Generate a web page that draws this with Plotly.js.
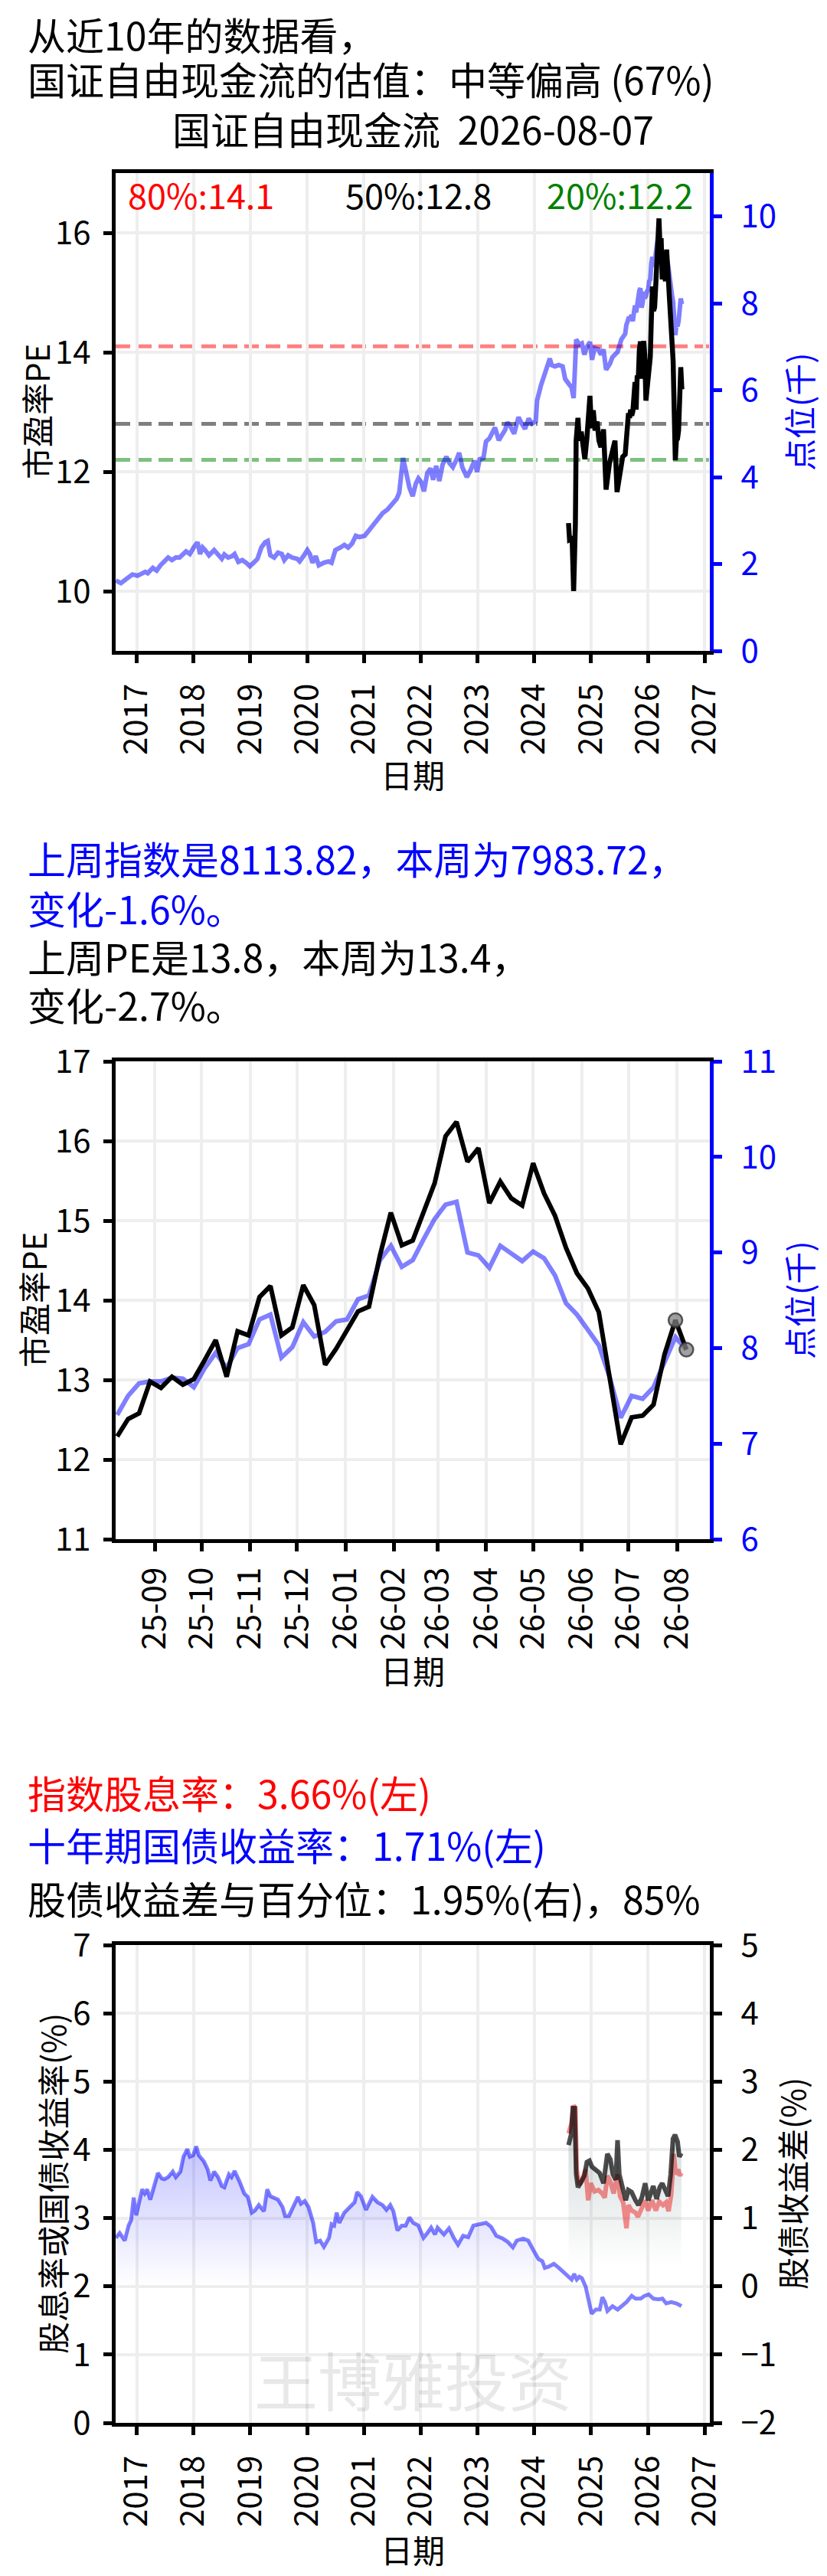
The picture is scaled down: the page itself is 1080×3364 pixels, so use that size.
<!DOCTYPE html>
<html>
<head>
<meta charset="utf-8">
<script src="https://cdn.plot.ly/plotly-3.0.1.min.js"></script>
<style>
  html, body { margin: 0; padding: 0; background: #fff; }
  #chart { width: 1080px; height: 3364px; }
</style>
</head>
<body>
<div id="chart"></div>
<script>
// ---- data ----
// index level (thousands), chart 1, before the weekly window (decimal years)
const idxYears = [2016.631,2016.721,2016.811,2016.924,2017.013,2017.148,2017.193,2017.283,2017.351,2017.418,
  2017.553,2017.620,2017.688,2017.755,2017.868,2017.935,2018.002,2018.070,2018.115,2018.160,2018.205,2018.272,
  2018.362,2018.430,2018.497,2018.542,2018.609,2018.677,2018.722,2018.789,2018.857,2018.924,2018.991,2019.059,
  2019.126,2019.194,2019.261,2019.306,2019.351,2019.419,2019.486,2019.553,2019.598,2019.666,2019.733,2019.823,
  2019.868,2019.935,2020.003,2020.048,2020.093,2020.151,2020.205,2020.295,2020.376,2020.430,2020.497,2020.587,
  2020.655,2020.722,2020.790,2020.857,2020.924,2021.014,2021.149,2021.239,2021.329,2021.419,2021.509,2021.576,
  2021.621,2021.688,2021.733,2021.800,2021.858,2021.913,2021.958,2022.012,2022.057,2022.115,2022.173,2022.218,
  2022.272,2022.327,2022.385,2022.452,2022.506,2022.565,2022.632,2022.677,2022.731,2022.812,2022.880,2022.947,
  2022.992,2023.037,2023.104,2023.149,2023.208,2023.262,2023.307,2023.374,2023.433,2023.487,2023.523,2023.577,
  2023.644,2023.721,2023.779,2023.837,2023.900,2023.959,2024.026,2024.048,2024.116,2024.161,2024.206,2024.273,
  2024.305,2024.363,2024.430,2024.498,2024.543,2024.611,2024.656,2024.692,2024.737,2024.791,2024.836,2024.881,
  2024.926,2024.980,2025.016,2025.061,2025.128,2025.173,2025.218,2025.263,2025.330,2025.375,2025.420,2025.465,
  2025.532];
const idxVals = [1.62,1.56,1.65,1.76,1.73,1.82,1.79,1.91,1.85,1.97,
  2.15,2.09,2.15,2.15,2.29,2.23,2.38,2.50,2.23,2.38,2.32,2.20,
  2.32,2.23,2.12,2.22,2.15,2.18,2.23,2.05,2.09,2.03,1.95,2.03,
  2.12,2.38,2.50,2.53,2.20,2.15,2.26,2.23,2.09,2.20,2.15,2.12,
  2.06,2.18,2.32,2.23,2.03,2.18,1.97,2.03,2.06,2.03,2.32,2.38,
  2.44,2.38,2.47,2.65,2.62,2.65,2.88,3.03,3.17,3.26,3.38,3.50,
  3.64,4.44,4.17,3.76,3.56,3.85,3.97,3.88,3.67,4.09,4.20,3.94,
  4.26,3.91,4.29,4.47,4.32,4.23,4.41,4.56,4.23,4.00,4.17,4.38,
  4.12,4.41,4.44,4.82,4.89,5.00,5.14,4.85,4.97,5.09,5.26,5.17,
  5.00,5.38,5.23,5.11,5.35,5.23,5.29,5.76,6.11,6.29,6.47,6.73,
  6.58,6.55,6.58,6.55,6.26,6.11,6.06,5.82,7.17,7.05,7.08,6.82,
  7.00,7.11,6.70,6.97,6.94,6.82,6.94,6.47,6.61,6.76,6.82,6.88,
  7.17];

// PE, chart 1, before the weekly window
const peYears = [2024.602,2024.620,2024.665,2024.692,2024.723,2024.736,2024.768,2024.790,2024.826,2024.858,
  2024.889,2024.925,2024.948,2024.979,2025.006,2025.038,2025.069,2025.105,2025.137,2025.173,2025.218,2025.263,
  2025.321,2025.375,2025.420,2025.456,2025.501,2025.555];
const peVals = [11.14,10.86,10.88,10.00,11.14,12.52,12.90,12.52,12.67,12.47,
  12.21,12.56,12.86,13.27,12.73,13.03,12.69,12.84,12.52,12.41,12.71,11.70,
  12.13,12.34,12.52,11.66,11.96,12.25];

// last 53 weeks (chart 2, also the tail of chart 1)
const weekDates = ['2025-08-08','2025-08-15','2025-08-22','2025-08-29','2025-09-05','2025-09-12','2025-09-19',
  '2025-09-26','2025-10-03','2025-10-10','2025-10-17','2025-10-24','2025-10-31','2025-11-07','2025-11-14',
  '2025-11-21','2025-11-28','2025-12-05','2025-12-12','2025-12-19','2025-12-26','2026-01-02','2026-01-09',
  '2026-01-16','2026-01-23','2026-01-30','2026-02-06','2026-02-13','2026-02-20','2026-02-27','2026-03-06',
  '2026-03-13','2026-03-20','2026-03-27','2026-04-03','2026-04-10','2026-04-17','2026-04-24','2026-05-01',
  '2026-05-08','2026-05-15','2026-05-22','2026-05-29','2026-06-05','2026-06-12','2026-06-19','2026-06-26',
  '2026-07-03','2026-07-10','2026-07-17','2026-07-24','2026-07-31','2026-08-07'];
const weekPE = [12.29,12.51,12.58,12.98,12.90,13.04,12.94,13.01,13.25,13.50,
  13.04,13.61,13.56,14.04,14.18,13.56,13.66,14.19,13.94,13.19,
  13.39,13.63,13.86,13.92,14.56,15.10,14.69,14.75,15.10,15.47,
  16.06,16.24,15.74,15.91,15.22,15.49,15.28,15.19,15.72,15.34,
  15.06,14.66,14.34,14.15,13.85,13.00,12.19,12.53,12.55,12.69,
  13.32,13.75,13.38];
const weekIdx = [7.30,7.50,7.63,7.65,7.65,7.69,7.68,7.59,7.79,7.95,
  7.79,8.00,8.04,8.30,8.35,7.90,8.01,8.27,8.12,8.17,
  8.28,8.30,8.51,8.55,8.92,9.07,8.85,8.92,9.14,9.35,
  9.50,9.53,9.00,8.97,8.84,9.07,8.99,8.91,9.01,8.94,
  8.76,8.47,8.35,8.18,8.03,7.69,7.27,7.50,7.47,7.59,
  7.84,8.11382,7.98372];

// percentile lines of PE
const pctLabels = ['80%:14.1', '50%:12.8', '20%:12.2'];
const pctValues = [14.1, 12.8, 12.2];

// chart 3: 10y bond yield (%)
const bondYears = [2016.631,2016.699,2016.789,2016.856,2016.901,2016.946,2016.991,2017.036,2017.094,2017.139,
  2017.184,2017.238,2017.306,2017.373,2017.441,2017.486,2017.553,2017.634,2017.688,2017.769,2017.823,2017.890,
  2017.935,2017.993,2018.047,2018.092,2018.182,2018.250,2018.295,2018.362,2018.430,2018.497,2018.542,2018.623,
  2018.668,2018.722,2018.812,2018.893,2018.955,2019.027,2019.081,2019.149,2019.239,2019.297,2019.351,2019.419,
  2019.486,2019.567,2019.612,2019.679,2019.756,2019.837,2019.891,2019.958,2020.025,2020.106,2020.160,2020.228,
  2020.295,2020.385,2020.430,2020.475,2020.520,2020.565,2020.655,2020.767,2020.835,2020.880,2020.947,2021.037,
  2021.149,2021.239,2021.329,2021.396,2021.464,2021.518,2021.590,2021.666,2021.734,2021.801,2021.868,2021.958,
  2022.048,2022.116,2022.183,2022.251,2022.296,2022.408,2022.498,2022.588,2022.656,2022.746,2022.836,2022.926,
  2023.016,2023.150,2023.240,2023.330,2023.443,2023.533,2023.622,2023.690,2023.803,2023.893,2023.983,2024.073,
  2024.140,2024.185,2024.253,2024.343,2024.433,2024.500,2024.590,2024.657,2024.702,2024.747,2024.792,2024.837,
  2024.905,2024.950,2025.008,2025.085,2025.152,2025.197,2025.242,2025.287,2025.377,2025.467,2025.557,2025.624,
  2025.714,2025.782,2025.872,2025.939,2026.015,2026.096,2026.186,2026.254,2026.321,2026.411,2026.501,2026.591];
const bondVals = [2.71,2.78,2.67,2.89,2.97,3.30,3.04,3.23,3.42,3.36,
  3.42,3.27,3.45,3.66,3.58,3.57,3.60,3.68,3.60,3.68,3.90,4.01,
  3.90,3.92,4.05,3.92,3.83,3.71,3.55,3.68,3.60,3.47,3.45,3.64,
  3.60,3.69,3.53,3.36,3.31,3.08,3.11,3.19,3.10,3.42,3.32,3.29,
  3.27,3.16,3.03,3.03,3.17,3.31,3.21,3.25,3.16,2.93,2.65,2.67,
  2.58,2.71,2.91,2.89,3.08,2.93,3.08,3.17,3.23,3.38,3.32,3.12,
  3.31,3.23,3.19,3.12,3.19,3.10,2.82,2.89,2.89,3.01,2.93,2.89,
  2.71,2.78,2.86,2.76,2.86,2.76,2.85,2.70,2.61,2.74,2.72,2.89,
  2.91,2.93,2.87,2.74,2.70,2.65,2.57,2.67,2.70,2.67,2.53,2.40,
  2.37,2.27,2.29,2.33,2.27,2.22,2.14,2.10,2.18,2.10,2.14,2.12,
  1.99,1.79,1.60,1.66,1.66,1.84,1.77,1.64,1.71,1.66,1.73,1.77,
  1.86,1.82,1.82,1.86,1.88,1.82,1.81,1.82,1.75,1.77,1.75,1.71];

// chart 3: dividend yield (%)
const divYears = [2024.602,2024.656,2024.692,2024.723,2024.746,2024.791,2024.836,2024.903,2024.948,2024.993,
  2025.060,2025.128,2025.195,2025.240,2025.285,2025.339,2025.397,2025.465,2025.510,2025.564,2025.622,2025.658,
  2025.712,2025.780,2025.825,2025.892,2025.951,2026.005,2026.072,2026.139,2026.198,2026.265,2026.319,2026.364,
  2026.409,2026.454,2026.490,2026.535,2026.566,2026.589];
const divVals = [4.24,4.39,4.65,4.61,3.71,3.49,3.54,3.71,3.26,3.51,
  3.39,3.41,3.36,3.30,3.62,3.53,3.36,3.64,3.32,3.23,2.85,3.19,
  3.11,3.08,3.02,3.13,3.26,3.11,3.26,3.11,3.24,3.19,3.23,3.10,
  3.34,3.94,3.64,3.71,3.62,3.66];

// chart 3: equity-bond yield spread (%)
const spreadYears = [2024.602,2024.647,2024.678,2024.710,2024.737,2024.768,2024.813,2024.880,2024.925,2024.970,
  2025.015,2025.083,2025.150,2025.218,2025.285,2025.339,2025.384,2025.433,2025.465,2025.496,2025.555,2025.609,
  2025.654,2025.712,2025.780,2025.834,2025.892,2025.951,2026.005,2026.050,2026.094,2026.153,2026.207,2026.252,
  2026.310,2026.355,2026.400,2026.441,2026.477,2026.522,2026.553,2026.589];
const spreadVals = [2.07,2.22,2.61,2.61,1.64,1.45,1.51,1.62,1.82,1.84,
  1.75,1.71,1.66,1.51,1.94,1.86,1.64,1.56,2.14,1.64,1.45,1.26,
  1.41,1.38,1.26,1.19,1.30,1.51,1.26,1.36,1.47,1.28,1.45,1.51,
  1.41,1.32,1.64,2.16,2.22,2.12,1.90,1.95];

const yearTicks = [2017,2018,2019,2020,2021,2022,2023,2024,2025,2026,2027];

// ---- helpers ----
const W = 1080, H = 3364;
const FONT = 'Noto Sans CJK SC';
const BLUE_LINE = 'rgba(0,0,255,0.5)';
function fx(x) { return x / W; }
function fy(y) { return 1 - y / H; }
function decYear(s) {
  const d = Date.parse(s + 'T00:00:00Z');
  const y = new Date(d).getUTCFullYear();
  const a = Date.UTC(y, 0, 1), b = Date.UTC(y + 1, 0, 1);
  return y + (d - a) / (b - a);
}
const weekYears = weekDates.map(decYear);

const box1 = { l: 151, r: 927, t: 226, b: 850 };
const box2 = { l: 151, r: 927, t: 1386, b: 2010 };
const box3 = { l: 151, r: 927, t: 2540, b: 3164 };

function axBase(color, standoff) {
  return {
    showline: true, linewidth: 5, linecolor: color,
    ticks: 'outside', ticklen: 11, tickwidth: 5, tickcolor: color,
    ticklabelstandoff: standoff,
    tickfont: { family: FONT, size: 42, color: color },
    showgrid: false, gridcolor: '#eeeeee', gridwidth: 4,
    zeroline: false, fixedrange: true
  };
}
function xYears(box, anchor) {
  return Object.assign(axBase('black', 10), {
    domain: [fx(box.l), fx(box.r)], anchor: anchor, type: 'linear',
    range: [2016.628, 2027.09], tickmode: 'array', tickvals: yearTicks,
    ticktext: yearTicks.map(String), tickangle: -90, mirror: true, showgrid: true
  });
}

// ---- traces ----
const traces = [
  // chart 1
  { x: idxYears.concat(weekYears), y: idxVals.concat(weekIdx), xaxis: 'x', yaxis: 'y',
    mode: 'lines', line: { color: BLUE_LINE, width: 6 } },
  { x: peYears.concat(weekYears), y: peVals.concat(weekPE), xaxis: 'x', yaxis: 'y2',
    mode: 'lines', line: { color: 'black', width: 6.5 } },
  // chart 2
  { x: weekDates, y: weekIdx, xaxis: 'x2', yaxis: 'y3',
    mode: 'lines', line: { color: BLUE_LINE, width: 6 } },
  { x: weekDates, y: weekPE, xaxis: 'x2', yaxis: 'y4',
    mode: 'lines', line: { color: 'black', width: 6 } },
  { x: weekDates.slice(-2), y: weekPE.slice(-2), xaxis: 'x2', yaxis: 'y4', mode: 'markers',
    marker: { size: 18, color: 'rgba(128,128,128,0.75)', line: { color: 'rgba(50,50,50,0.8)', width: 2.5 } } },
  // chart 3
  { x: bondYears, y: bondVals, xaxis: 'x3', yaxis: 'y5', mode: 'lines',
    line: { color: BLUE_LINE, width: 5 }, fill: 'tozeroy',
    fillgradient: { type: 'vertical', start: 2.0, stop: 4.05,
      colorscale: [[0, 'rgba(0,0,255,0)'], [1, 'rgba(0,0,255,0.23)']] } },
  { x: divYears, y: divVals, xaxis: 'x3', yaxis: 'y5', mode: 'lines',
    line: { color: 'rgba(255,0,0,0.45)', width: 6 } },
  { x: spreadYears, y: spreadVals, xaxis: 'x3', yaxis: 'y6', mode: 'lines',
    line: { width: 0 }, fill: 'tozeroy',
    fillgradient: { type: 'vertical', start: 0.3, stop: 2.0,
      colorscale: [[0, 'rgba(47,79,79,0)'], [1, 'rgba(47,79,79,0.18)']] } },
  { x: spreadYears, y: spreadVals, xaxis: 'x3', yaxis: 'y6', mode: 'lines',
    line: { color: 'rgba(0,0,0,0.7)', width: 6 } }
];

// ---- percentile dashed lines ----
const pctColors = ['rgba(255,0,0,0.5)', 'rgba(0,0,0,0.5)', 'rgba(0,128,0,0.5)'];
const pctTextColors = ['red', 'black', 'green'];
const shapes = pctValues.map((v, i) => ({
  type: 'line', xref: 'x domain', yref: 'y2', x0: 0, x1: 1, y0: v, y1: v, layer: 'below',
  line: { color: pctColors[i], width: 5, dash: '19px,9px' }
}));

// ---- texts ----
function note(text, x, y, opts) {
  return Object.assign({
    text: text, xref: 'paper', yref: 'paper', x: fx(x), y: fy(y),
    xanchor: 'left', yanchor: 'middle', showarrow: false, borderpad: 0,
    font: { family: FONT, size: 50, color: 'black' }
  }, opts || {});
}
function vtitle(text, x, y, color) {
  return note(text, x, y, { xanchor: 'center', textangle: -90,
    font: { family: FONT, size: 42, color: color } });
}
function htitle(text, x, y) {
  return note(text, x, y, { xanchor: 'center', font: { family: FONT, size: 42, color: 'black' } });
}
const mid1 = (box1.l + box1.r) / 2;

const annotations = [
  note('从近10年的数据看，', 35, 44),
  note('国证自由现金流的估值：中等偏高 (67%)', 35, 102),
  note('国证自由现金流\u00a0\u00a02026-08-07', mid1, 167, { xanchor: 'center' }),
  vtitle('市盈率PE', 46, (box1.t + box1.b) / 2, 'black'),
  vtitle('点位(千)', 1042, (box1.t + box1.b) / 2, 'blue'),
  htitle('日期', mid1, 1010),

  note('上周指数是8113.82，本周为7983.72，', 35, 1120, { font: { family: FONT, size: 50, color: 'blue' } }),
  note('变化-1.6%。', 35, 1185, { font: { family: FONT, size: 50, color: 'blue' } }),
  note('上周PE是13.8，本周为13.4，', 35, 1248),
  note('变化-2.7%。', 35, 1311),
  vtitle('市盈率PE', 42, (box2.t + box2.b) / 2, 'black'),
  vtitle('点位(千)', 1042, (box2.t + box2.b) / 2, 'blue'),
  htitle('日期', mid1, 2180),

  note('指数股息率：3.66%(左)', 35, 2340, { font: { family: FONT, size: 50, color: 'red' } }),
  note('十年期国债收益率：1.71%(左)', 35, 2408, { font: { family: FONT, size: 50, color: 'blue' } }),
  note('股债收益差与百分位：1.95%(右)，85%', 35, 2478),
  vtitle('股息率或国债收益率(%)', 67, (box3.t + box3.b) / 2, 'black'),
  vtitle('股债收益差(%)', 1033, (box3.t + box3.b) / 2, 'black'),
  htitle('日期', mid1, 3328),
  note('王博雅投资', mid1, 3106, { xanchor: 'center',
    font: { family: FONT, size: 83, color: 'rgba(0,0,0,0.09)' } })
];
const pctX = [166, 450, 713];
pctLabels.forEach((t, i) => {
  annotations.push(note(t, pctX[i], 253, { font: { family: FONT, size: 45, color: pctTextColors[i] } }));
});

// ---- layout ----
const layout = {
  width: W, height: H, margin: { l: 0, r: 0, t: 0, b: 0 },
  paper_bgcolor: 'white', plot_bgcolor: 'rgba(0,0,0,0)', showlegend: false,
  // chart 1: base axis = index (right), PE overlays it so the black line sits on top
  xaxis: xYears(box1, 'y'),
  yaxis: Object.assign(axBase('blue', 16), { domain: [fy(box1.b), fy(box1.t)], anchor: 'x', side: 'right',
    range: [0, 11], tick0: 0, dtick: 2 }),
  yaxis2: Object.assign(axBase('black', 8), { overlaying: 'y', anchor: 'x', side: 'left',
    range: [9, 17], tick0: 10, dtick: 2, showgrid: true }),
  // chart 2
  xaxis2: Object.assign(axBase('black', 4), { domain: [fx(box2.l), fx(box2.r)], anchor: 'y3', type: 'date',
    range: ['2025-08-07', '2026-08-22'], tick0: '2025-09-01', dtick: 'M1', tickformat: '%y-%m',
    tickangle: -90, mirror: true, showgrid: true }),
  yaxis3: Object.assign(axBase('blue', 16), { domain: [fy(box2.b), fy(box2.t)], anchor: 'x2', side: 'right',
    range: [6, 11], tick0: 6, dtick: 1 }),
  yaxis4: Object.assign(axBase('black', 8), { overlaying: 'y3', anchor: 'x2', side: 'left',
    range: [11, 17], tick0: 11, dtick: 1, showgrid: true }),
  // chart 3
  xaxis3: xYears(box3, 'y5'),
  yaxis5: Object.assign(axBase('black', 8), { domain: [fy(box3.b), fy(box3.t)], anchor: 'x3', side: 'left',
    range: [0, 7], tick0: 0, dtick: 1, showgrid: true }),
  yaxis6: Object.assign(axBase('black', 16), { overlaying: 'y5', anchor: 'x3', side: 'right',
    range: [-2, 5], tick0: -2, dtick: 1 }),
  shapes: shapes,
  annotations: annotations
};

Plotly.newPlot('chart', traces, layout, { staticPlot: true });
</script>
</body>
</html>
